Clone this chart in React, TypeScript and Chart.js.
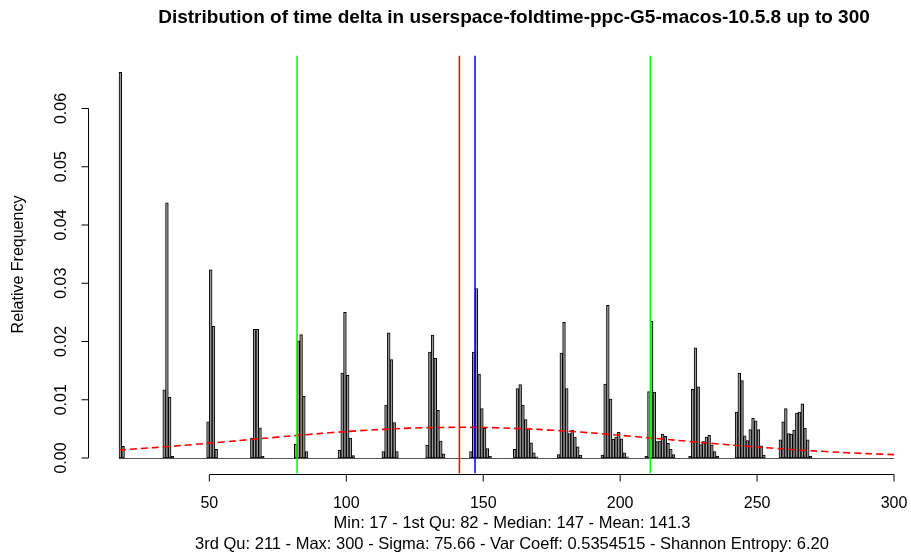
import React, { useEffect, useRef } from "react";
import { Chart, registerables } from "chart.js";

Chart.register(...registerables);

const TITLE = "Distribution of time delta in userspace-foldtime-ppc-G5-macos-10.5.8 up to 300";
const Y_LABEL = "Relative Frequency";
const SUB_LINES = [
  "Min: 17 - 1st Qu: 82 - Median: 147 - Mean: 141.3",
  "3rd Qu: 211 - Max: 300 - Sigma: 75.66 - Var Coeff: 0.5354515 - Shannon Entropy: 6.20",
];

// Histogram bins of width 1 (left edge) and their relative frequency (non-empty bins)
const binLeft = [
  17, 18,
  33, 34, 35, 36,
  49, 50, 51, 52,
  65, 66, 67, 68, 69,
  81, 82, 83, 84, 85,
  97, 98, 99, 100, 101, 102,
  113, 114, 115, 116, 117, 118,
  129, 130, 131, 132, 133, 134, 135,
  145, 146, 147, 148, 149, 150, 151, 152,
  161, 162, 163, 164, 165, 166, 167, 168, 169,
  177, 178, 179, 180, 181, 182, 183, 184, 185,
  193, 194, 195, 196, 197, 198, 199, 200, 201, 202,
  209, 210, 211, 212, 213, 214, 215, 216, 217, 218, 219,
  225, 226, 227, 228, 229, 230, 231, 232, 233, 234, 235,
  242, 243, 244, 245, 246, 247, 248, 249, 250, 251, 252,
  258, 259, 260, 261, 262, 263, 264, 265, 266, 267, 268, 269,
];
const relFreq = [
  0.0662, 0.002,
  0.0117, 0.0438, 0.0104, 0.0003,
  0.0062, 0.0323, 0.0226, 0.0015,
  0.0034, 0.0221, 0.0221, 0.0052, 0.0003,
  0.0024, 0.0201, 0.0212, 0.0106, 0.0011,
  0.0013, 0.0146, 0.025, 0.0142, 0.0034, 0.0004,
  0.0011, 0.0091, 0.0215, 0.0169, 0.0061, 0.0011,
  0.0022, 0.0182, 0.0211, 0.0171, 0.0082, 0.0029, 0.0007,
  0.0011, 0.0182, 0.0291, 0.0144, 0.0085, 0.0051, 0.0016, 0.0003,
  0.0015, 0.0119, 0.0126, 0.0091, 0.0066, 0.005, 0.0026, 0.0009, 0.0002,
  0.0006, 0.018, 0.0233, 0.0119, 0.0042, 0.0048, 0.0036, 0.0019, 0.0005,
  0.0005, 0.0127, 0.0262, 0.0101, 0.0032, 0.0036, 0.0044, 0.0033, 0.0009, 0.0002,
  0.0003, 0.0114, 0.0235, 0.0113, 0.0028, 0.0029, 0.0041, 0.0037, 0.0025, 0.0015, 0.0006,
  0.0003, 0.0118, 0.0189, 0.0122, 0.0023, 0.0028, 0.0036, 0.0039, 0.0022, 0.0011, 0.0003,
  0.0079, 0.0146, 0.0133, 0.0038, 0.003, 0.0049, 0.0068, 0.0064, 0.0049, 0.0021, 0.0005,
  0.0031, 0.0062, 0.0085, 0.0042, 0.0041, 0.0048, 0.0077, 0.0079, 0.0093, 0.0051, 0.0031, 0.0003,
];
const HIST_MIN = 17;
const HIST_MAX = 300;

// Red dashed density curve
const curveX = [17, 30, 40, 50, 60, 70, 80, 90, 100, 110, 120, 130, 140, 150, 160, 170, 180, 190, 200, 210, 220, 230, 240, 250, 260, 270, 280, 290, 300];
const curveY = [
  0.00137, 0.00179, 0.00215, 0.00255, 0.00296, 0.00338, 0.0038, 0.00419, 0.00454, 0.00484,
  0.00507, 0.00521, 0.00527, 0.00524, 0.00511, 0.00491, 0.00463, 0.00429, 0.0039, 0.00349,
  0.00307, 0.00265, 0.00225, 0.00188, 0.00154, 0.00124, 0.00098, 0.00076, 0.00058,
];

// Summary markers
const quartiles = [82, 211];
const meanValue = 141.3;
const medianValue = 147;

const xTicks = [50, 100, 150, 200, 250, 300];
const yTicks = [0, 0.01, 0.02, 0.03, 0.04, 0.05, 0.06];
const yTickLabels = ["0.00", "0.01", "0.02", "0.03", "0.04", "0.05", "0.06"];

const X_MIN = 5.68;
const X_MAX = 306.2;
const Y_MIN = -0.00266;
const Y_MAX = 0.0691;

const FONT = "'Liberation Sans', Arial, Helvetica, sans-serif";

export default function App() {
  const ref = useRef<HTMLCanvasElement>(null);

  useEffect(() => {
    const canvas = ref.current;
    if (!canvas) return;

    const rPlugin = {
      id: "rDecor",
      beforeDatasetsDraw(chart: any) {
        const { ctx, scales } = chart;
        const x = scales.x;
        const y = scales.y;
        ctx.save();
        ctx.strokeStyle = "#555";
        ctx.lineWidth = 1;
        const y0 = Math.round(y.getPixelForValue(0)) + 0.5;
        ctx.beginPath();
        ctx.moveTo(x.getPixelForValue(HIST_MIN), y0);
        ctx.lineTo(x.getPixelForValue(HIST_MAX), y0);
        ctx.stroke();
        ctx.restore();
      },
      afterDraw(chart: any) {
        const { ctx, scales, chartArea } = chart;
        const x = scales.x;
        const y = scales.y;
        ctx.save();
        ctx.strokeStyle = "#000";
        ctx.fillStyle = "#000";
        ctx.lineWidth = 1;

        // x axis
        const ax = Math.round(chartArea.bottom) + 0.5;
        ctx.beginPath();
        ctx.moveTo(x.getPixelForValue(xTicks[0]), ax);
        ctx.lineTo(x.getPixelForValue(xTicks[xTicks.length - 1]), ax);
        xTicks.forEach((t) => {
          const px = x.getPixelForValue(t);
          ctx.moveTo(px, ax);
          ctx.lineTo(px, ax + 7);
        });
        ctx.stroke();
        ctx.font = `16px ${FONT}`;
        ctx.textAlign = "center";
        ctx.textBaseline = "middle";
        xTicks.forEach((t) => {
          ctx.fillText(String(t), x.getPixelForValue(t), 504);
        });

        // y axis
        const ay = Math.round(chartArea.left) + 0.5;
        ctx.beginPath();
        ctx.moveTo(ay, y.getPixelForValue(yTicks[0]));
        ctx.lineTo(ay, y.getPixelForValue(yTicks[yTicks.length - 1]));
        yTicks.forEach((t) => {
          const py = y.getPixelForValue(t);
          ctx.moveTo(ay, py);
          ctx.lineTo(ay - 7, py);
        });
        ctx.stroke();
        yTicks.forEach((t, i) => {
          ctx.save();
          ctx.translate(62, y.getPixelForValue(t));
          ctx.rotate(-Math.PI / 2);
          ctx.fillText(yTickLabels[i], 0, 0);
          ctx.restore();
        });

        // y label
        ctx.save();
        ctx.translate(19, (chartArea.top + chartArea.bottom) / 2);
        ctx.rotate(-Math.PI / 2);
        ctx.fillText(Y_LABEL, 0, 0);
        ctx.restore();

        // title
        ctx.font = `bold 19px ${FONT}`;
        ctx.fillText(TITLE, 514, 18);

        // subtitle
        ctx.font = `16.5px ${FONT}`;
        ctx.fillText(SUB_LINES[0], 512, 523);
        ctx.fillText(SUB_LINES[1], 512, 544);
        ctx.restore();
      },
    };

    const vline = (v: number, color: string) => ({
      type: "line" as const,
      data: [
        { x: v, y: Y_MIN },
        { x: v, y: Y_MAX },
      ],
      borderColor: color,
      borderWidth: 1.5,
      pointRadius: 0,
      order: 1,
    });

    const chart = new Chart(canvas, {
      type: "bar",
      data: {
        datasets: [
          {
            type: "bar",
            data: binLeft.map((b, i) => ({ x: b + 0.5, y: relFreq[i] })),
            backgroundColor: "#9a9a9a",
            borderColor: "#000000",
            borderWidth: 1,
            borderSkipped: false,
            barPercentage: 1,
            categoryPercentage: 1,
            order: 10,
          } as any,
          {
            type: "line",
            data: curveX.map((v, i) => ({ x: v, y: curveY[i] })),
            borderColor: "#ff0000",
            borderDash: [7, 4],
            borderWidth: 1.6,
            pointRadius: 0,
            tension: 0.3,
            order: 5,
          } as any,
          ...quartiles.map((q) => vline(q, "#00ff00")),
          vline(meanValue, "#ff0000"),
          vline(medianValue, "#0000ff"),
        ],
      },
      options: {
        responsive: false,
        animation: false,
        devicePixelRatio: 1,
        layout: { padding: { left: 88, top: 55.5, right: 0, bottom: 83.5 } },
        plugins: {
          legend: { display: false },
          tooltip: { enabled: false },
          title: { display: false },
        },
        scales: {
          x: { type: "linear", min: X_MIN, max: X_MAX, offset: false, display: false },
          y: { type: "linear", min: Y_MIN, max: Y_MAX, display: false },
        },
      } as any,
      plugins: [rPlugin],
    });

    return () => chart.destroy();
  }, []);

  return (
    <div style={{ position: "fixed", left: 0, top: 0, width: 911, height: 557, background: "#fff" }}>
      <canvas ref={ref} width={911} height={557} style={{ display: "block" }} />
    </div>
  );
}
